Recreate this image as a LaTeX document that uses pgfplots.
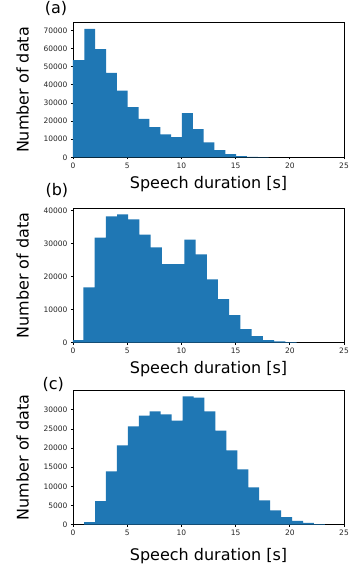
\documentclass[border=0pt]{standalone}
\usepackage{pgfplots}
\pgfplotsset{compat=1.18}
\usepackage{fontspec}
\setmainfont{DejaVu Sans}
\definecolor{C0}{HTML}{1F77B4}
\pgfplotsset{
  hist/.style={
    scale only axis, width=271pt, height=134.5pt,
    anchor=south west,
    xmin=0, xmax=25, ymin=0,
    xtick={0,5,10,15,20,25},
    tick align=outside, tick pos=left,
    major tick length=2pt,
    every tick/.style={black, line width=0.8pt},
    axis line style={line width=0.8pt},
    ticklabel style={font=\fontsize{7.5}{8.5}\selectfont, text=black!85},
    /pgf/number format/assume math mode=true,
    scaled y ticks=false,
    yticklabel style={/pgf/number format/1000 sep={}},
    label style={font=\fontsize{16}{19}\selectfont},
    xlabel={Speech duration [s]},
    ylabel={Number of data},
    ylabel style={at={(axis description cs:-0.1856,0.5)}, anchor=center},
  }
}
\begin{document}
\begin{tikzpicture}
\path[use as bounding box] (0,0) rectangle (350pt,570pt);
% (a)
\begin{axis}[hist, at={(73pt,412.7pt)}, ymax=74300,
  ytick={0,10000,...,70000},
  xlabel style={at={(axis description cs:0.5,-0.2327)}, anchor=base},
  extra description/.code={\node[anchor=base west, inner sep=0pt, font=\fontsize{16}{19}\selectfont] at (-0.1044,1.0706) {(a)};}]
\addplot[ybar interval, fill=C0, draw=none] coordinates {
(0,53700) (1.05,70900) (2.05,59800) (3.05,46700) (4.05,36800) (5.05,27700)
(6.05,21200) (7.05,16600) (8.05,12700) (9.05,11100) (10.05,24400) (11.05,15500)
(12.05,8300) (13.05,3900) (14.05,1700) (15.05,700) (16.05,200) (17.05,80) (18.05,0)};
\end{axis}
% (b)
\begin{axis}[hist, at={(73pt,227.3pt)}, ymax=40800,
  ytick={0,10000,...,40000},
  xlabel style={at={(axis description cs:0.5,-0.2327)}, anchor=base},
  extra description/.code={\node[anchor=base west, inner sep=0pt, font=\fontsize{16}{19}\selectfont] at (-0.102,1.095) {(b)};}]
\addplot[ybar interval, fill=C0, draw=none] coordinates {
(0,800) (0.955,16800) (1.99,31900) (3.025,38300) (4.06,38900) (5.095,37400)
(6.13,32800) (7.165,28900) (8.2,23800) (9.235,23800) (10.27,31300) (11.305,26800)
(12.34,19200) (13.375,13200) (14.41,8400) (15.445,4100) (16.48,2000) (17.515,800)
(18.55,400) (19.585,150) (20.62,0)};
\end{axis}
% (c)
\begin{axis}[hist, at={(73pt,45.5pt)}, ymax=35200,
  ytick={0,5000,...,30000},
  xlabel style={at={(axis description cs:0.5,-0.2654)}, anchor=base},
  extra description/.code={\node[anchor=base west, inner sep=0pt, font=\fontsize{16}{19}\selectfont] at (-0.113,1.006) {(c)};}]
\addplot[ybar interval, fill=C0, draw=none] coordinates {
(1.02,600) (2.03,6100) (3.04,13900) (4.05,20700) (5.06,25700) (6.07,28500)
(7.08,29600) (8.09,28800) (9.10,27200) (10.11,33500) (11.12,33200) (12.13,29600)
(13.14,24600) (14.15,19400) (15.16,14400) (16.17,9700) (17.18,6300) (18.19,3700)
(19.20,1900) (20.21,950) (21.22,400) (22.23,100) (23.24,0)};
\end{axis}
\end{tikzpicture}
\end{document}
